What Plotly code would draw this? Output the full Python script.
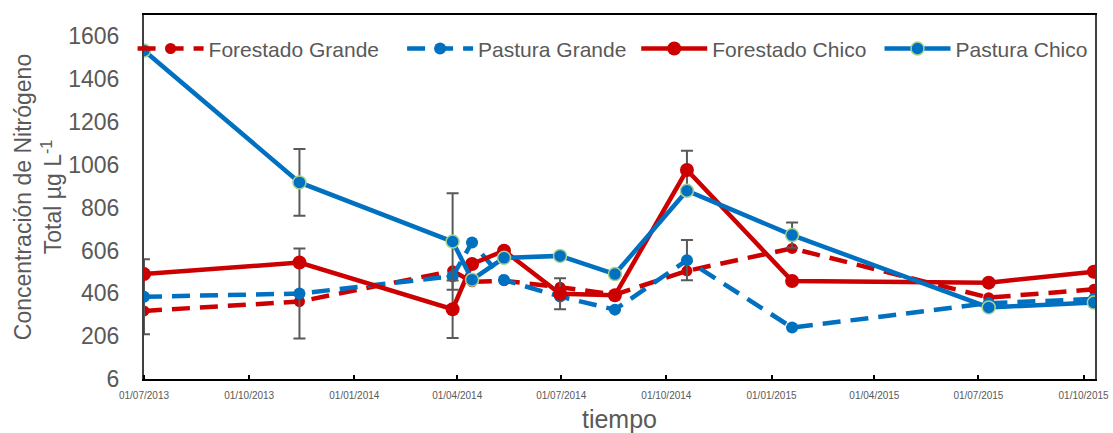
import plotly.graph_objects as go

dates = ["2013-07-01", "2013-11-14", "2014-03-28", "2014-04-14", "2014-05-12",
         "2014-06-30", "2014-08-17", "2014-10-19", "2015-01-19", "2015-07-10",
         "2015-10-10"]

forestado_grande = [324, 368, 511, 460, 465, 435, 400, 511, 616, 386, 425]
pastura_grande = [390, 405, 486, 644, 468, 391, 330, 561, 246, 360, 380]
forestado_chico = [496, 550, 332, 543, 605, 404, 397, 982, 464, 456, 507]
pastura_chico = [1540, 924, 648, 470, 572, 581, 496, 885, 678, 340, 363]

err_pastura_grande = [175, 210, None, None, None, None, None, 94, None, None, None]
err_forestado_chico = [None, None, 134, None, None, 72, None, 90, None, None, None]
err_pastura_chico = [None, 156, 225, None, None, None, None, None, 59, None, None]

x_tick_vals = ["2013-07-01", "2013-10-01", "2014-01-01", "2014-04-01", "2014-07-01",
               "2014-10-01", "2015-01-01", "2015-04-01", "2015-07-01", "2015-10-01"]
x_tick_text = ["01/07/2013", "01/10/2013", "01/01/2014", "01/04/2014", "01/07/2014",
               "01/10/2014", "01/01/2015", "01/04/2015", "01/07/2015", "01/10/2015"]
y_tick_vals = [6, 206, 406, 606, 806, 1006, 1206, 1406, 1606]

RED = "#CC0000"
BLUE = "#0070C0"
GREEN = "#A9D18E"
GREY = "#595959"
FONT = "Liberation Sans, Arial, sans-serif"

# legend x positions (paper coords), one legend per series
legend_x = [-0.012, 0.2714, 0.5176, 0.7734]


def err(arr):
    return dict(type="data", array=arr, visible=True, color=GREY, thickness=2, width=6)


fig = go.Figure()
fig.add_trace(go.Scatter(
    x=dates, y=forestado_grande, name="Forestado Grande", mode="lines+markers",
    line=dict(color=RED, width=4.5, dash="18px,10px"),
    marker=dict(color=RED, size=11), legend="legend",
))
fig.add_trace(go.Scatter(
    x=dates, y=pastura_grande, name="Pastura Grande", mode="lines+markers",
    line=dict(color=BLUE, width=4.5, dash="18px,10px"),
    marker=dict(color=BLUE, size=12),
    error_y=err(err_pastura_grande), legend="legend2",
))
fig.add_trace(go.Scatter(
    x=dates, y=forestado_chico, name="Forestado Chico", mode="lines+markers",
    line=dict(color=RED, width=4.5),
    marker=dict(color=RED, size=14),
    error_y=err(err_forestado_chico), legend="legend3",
))
fig.add_trace(go.Scatter(
    x=dates, y=pastura_chico, name="Pastura Chico", mode="lines+markers",
    line=dict(color=BLUE, width=4.5),
    marker=dict(color=BLUE, size=13, line=dict(color=GREEN, width=1.5)),
    error_y=err(err_pastura_chico), legend="legend4",
))

leg_common = dict(
    orientation="h", y=0.907, xanchor="left", yanchor="middle",
    font=dict(size=21, color=GREY, family=FONT),
    bgcolor="rgba(0,0,0,0)", itemwidth=66,
)

fig.update_layout(
    width=1113, height=433,
    margin=dict(l=144, r=18, t=15, b=54, autoexpand=False),
    paper_bgcolor="white", plot_bgcolor="white",
    font=dict(family=FONT, color=GREY),
    showlegend=True,
    legend=dict(x=legend_x[0], **leg_common),
    legend2=dict(x=legend_x[1], **leg_common),
    legend3=dict(x=legend_x[2], **leg_common),
    legend4=dict(x=legend_x[3], **leg_common),
)
fig.update_xaxes(
    type="date", range=["2013-07-01", "2015-10-11"],
    tickvals=x_tick_vals, ticktext=x_tick_text,
    tickfont=dict(size=10, color=GREY, family=FONT),
    ticks="outside", ticklen=6, tickcolor="rgba(0,0,0,0)",
    minor=dict(ticks="inside", ticklen=4, tickcolor="black", tickwidth=1.5,
               dtick="M3", tick0="2013-07-01", showgrid=False),
    showline=True, linecolor="black", linewidth=2, mirror=True,
    showgrid=False, zeroline=False, automargin=False,
    title=dict(text="tiempo", font=dict(size=25, color=GREY, family=FONT), standoff=12),
)
fig.update_yaxes(
    range=[6, 1706], tickvals=y_tick_vals,
    tickfont=dict(size=23, color=GREY, family=FONT),
    ticks="outside", ticklen=18, tickcolor="rgba(0,0,0,0)",
    showline=True, linecolor="#404040", linewidth=2, mirror=True,
    showgrid=False, zeroline=False, automargin=False,
    title=dict(text="Concentración de Nitrógeno<br>Total µg L<sup>-1</sup>",
               font=dict(size=23, color=GREY, family=FONT), standoff=0),
)

fig.write_html("out.html")
